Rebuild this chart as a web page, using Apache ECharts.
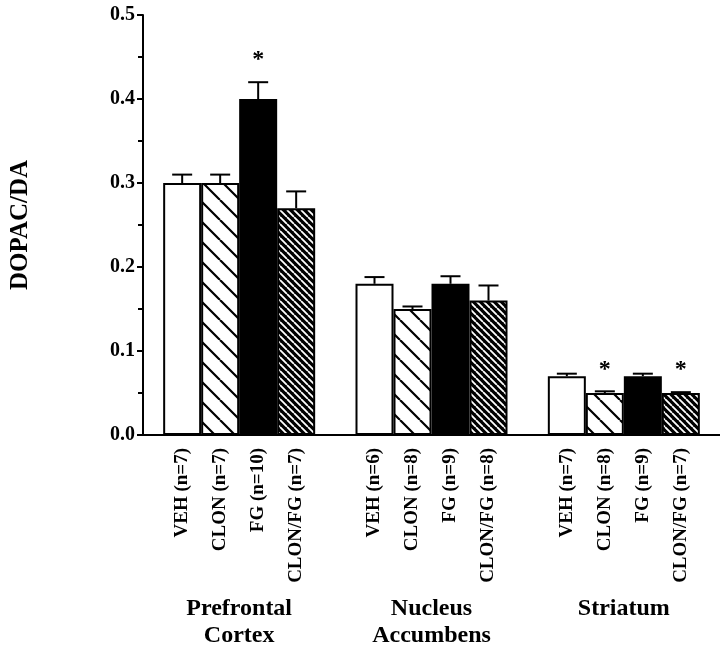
<!DOCTYPE html>
<html>
<head>
<meta charset="utf-8">
<script src="https://cdn.jsdelivr.net/npm/echarts@6/dist/echarts.min.js"></script>
<style>
  html, body { margin: 0; padding: 0; background: #fff; }
  #chart { width: 720px; height: 654px; }
</style>
</head>
<body>
<div id="chart"></div>
<script>
// ---- Data ----
const regions = ['Prefrontal\nCortex', 'Nucleus\nAccumbens', 'Striatum'];
const treatments = ['VEH', 'CLON', 'FG', 'CLON/FG'];
const vehValues = [0.30, 0.18, 0.07];
const clonValues = [0.30, 0.15, 0.05];
const fgValues = [0.40, 0.18, 0.07];
const clonFgValues = [0.27, 0.16, 0.05];
const vehErr = [0.010, 0.008, 0.003];
const clonErr = [0.010, 0.003, 0.002];
const fgErr = [0.020, 0.009, 0.003];
const clonFgErr = [0.020, 0.018, 0.001];
const vehN = [7, 6, 7];
const clonN = [7, 8, 8];
const fgN = [10, 9, 9];
const clonFgN = [7, 8, 7];
const vehSig = [false, false, false];
const clonSig = [false, false, true];
const fgSig = [true, false, false];
const clonFgSig = [false, false, true];
const yTicks = [0.0, 0.1, 0.2, 0.3, 0.4, 0.5];

const seriesValues = [vehValues, clonValues, fgValues, clonFgValues];
const seriesErr = [vehErr, clonErr, fgErr, clonFgErr];
const seriesN = [vehN, clonN, fgN, clonFgN];
const seriesSig = [vehSig, clonSig, fgSig, clonFgSig];

const FONT = '"Liberation Serif", "Times New Roman", serif';
const BAR_W = 38;

function stripePattern(bg, fg, spacing, lw) {
  const c = document.createElement('canvas');
  c.width = spacing; c.height = spacing;
  const ctx = c.getContext('2d');
  ctx.fillStyle = bg;
  ctx.fillRect(0, 0, spacing, spacing);
  ctx.strokeStyle = fg;
  ctx.lineWidth = lw;
  ctx.beginPath();
  for (let k = -1; k <= 1; k++) {
    ctx.moveTo(k * spacing, 0);
    ctx.lineTo(k * spacing + spacing, spacing);
  }
  ctx.stroke();
  return { image: c, repeat: 'repeat' };
}

const fills = [
  '#ffffff',
  stripePattern('#ffffff', '#000000', 20, 2.2),
  '#000000',
  stripePattern('#000000', '#ffffff', 7, 1.8)
];

const chart = echarts.init(document.getElementById('chart'), null, { renderer: 'canvas' });

const barSeries = treatments.map((t, s) => ({
  name: t,
  type: 'bar',
  data: seriesValues[s],
  barWidth: BAR_W,
  barGap: '0%',
  itemStyle: { color: fills[s], borderColor: '#000', borderWidth: 2 },
  label: {
    show: true,
    position: 'bottom',
    distance: 13,
    rotate: 90,
    align: 'right',
    verticalAlign: 'middle',
    fontFamily: FONT,
    fontWeight: 'bold',
    fontSize: 19,
    color: '#000',
    formatter: p => t + ' (n=' + seriesN[s][p.dataIndex] + ')'
  },
  silent: true,
  z: 2
}));

const errData = [];
treatments.forEach((t, s) => {
  regions.forEach((r, i) => {
    errData.push([i, seriesValues[s][i], seriesErr[s][i], s, seriesSig[s][i] ? 1 : 0]);
  });
});

const errSeries = {
  type: 'custom',
  data: errData,
  z: 5,
  silent: true,
  renderItem: function (params, api) {
    const cat = api.value(0), val = api.value(1), err = api.value(2), s = api.value(3), sig = api.value(4);
    const base = api.coord([cat, val]);
    const top = api.coord([cat, val + err]);
    const x = base[0] + (s - 1.5) * BAR_W;
    const capHalf = 10;
    const children = [
      { type: 'line', shape: { x1: x, y1: base[1], x2: x, y2: top[1] }, style: { stroke: '#000', lineWidth: 2 } },
      { type: 'line', shape: { x1: x - capHalf, y1: top[1], x2: x + capHalf, y2: top[1] }, style: { stroke: '#000', lineWidth: 2 } }
    ];
    if (sig) {
      children.push({
        type: 'text',
        style: { text: '*', x: x, y: top[1] - 10, align: 'center', verticalAlign: 'bottom',
                 font: 'bold 24px ' + FONT, fill: '#000' }
      });
    }
    return { type: 'group', children: children };
  }
};

chart.setOption({
  backgroundColor: '#fff',
  animation: false,
  grid: { left: 139, top: 15, width: 583, height: 420, containLabel: false },
  xAxis: {
    type: 'category',
    data: regions,
    axisLine: { show: true, lineStyle: { color: '#000', width: 2 } },
    axisTick: { show: false },
    axisLabel: {
      interval: 0, margin: 160, fontFamily: FONT, fontWeight: 'bold', fontSize: 24,
      lineHeight: 27, color: '#000'
    },
    splitLine: { show: false }
  },
  yAxis: {
    type: 'value',
    min: 0, max: 0.5, interval: 0.1,
    name: 'DOPAC/DA',
    nameLocation: 'middle',
    nameRotate: 90,
    nameGap: 110,
    nameTextStyle: { fontFamily: FONT, fontWeight: 'bold', fontSize: 25, color: '#000' },
    axisLine: { show: true, lineStyle: { color: '#000', width: 2 } },
    axisTick: { show: true, length: 6, lineStyle: { color: '#000', width: 2 } },
    minorTick: { show: true, splitNumber: 2, length: 5, lineStyle: { color: '#000', width: 2 } },
    splitLine: { show: false },
    axisLabel: {
      margin: 8, fontFamily: FONT, fontWeight: 'bold', fontSize: 20, color: '#000',
      formatter: v => yTicks.some(t => Math.abs(t - v) < 1e-9) ? v.toFixed(1) : ''
    }
  },
  series: barSeries.concat([errSeries])
});
</script>
</body>
</html>
